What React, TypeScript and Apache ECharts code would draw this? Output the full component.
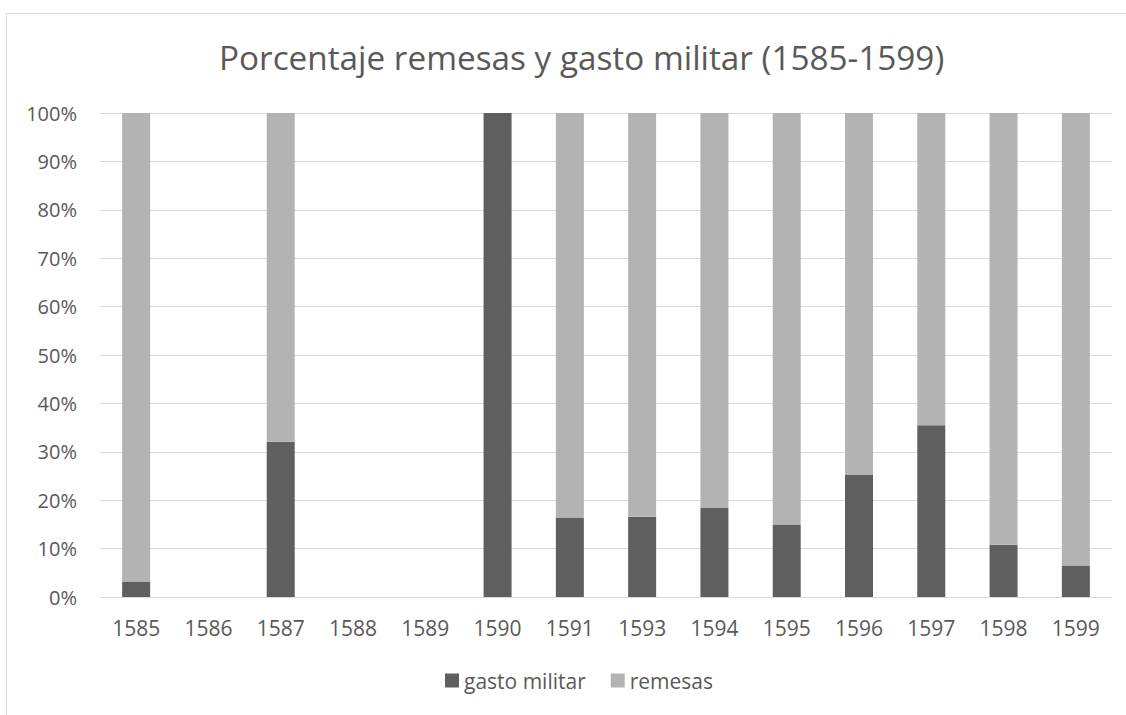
import React, { useEffect, useRef } from "react";
import * as echarts from "echarts";

const categories = ["1585", "1586", "1587", "1588", "1589", "1590", "1591", "1593", "1594", "1595", "1596", "1597", "1598", "1599"];
const gastoMilitar = [3.1, 0, 32.1, 0, 0, 100, 16.3, 16.6, 18.4, 15.0, 25.2, 35.5, 10.8, 6.4];
const remesas = [96.9, 0, 67.9, 0, 0, 0, 83.7, 83.4, 81.6, 85.0, 74.8, 64.5, 89.2, 93.6];
const titleText = "Porcentaje remesas y gasto militar (1585-1599)";

const FONT = "'Open Sans', 'Noto Sans', sans-serif";
const TEXT = "#595959";

export default function App() {
  const ref = useRef<HTMLDivElement>(null);
  useEffect(() => {
    if (!ref.current) return;
    const chart = echarts.init(ref.current, undefined, { renderer: "svg" });
    chart.setOption({
      animation: false,
      backgroundColor: "#ffffff",
      textStyle: { fontFamily: FONT },
      title: {
        text: titleText,
        left: 214,
        top: 35,
        textStyle: { fontFamily: FONT, fontSize: 33.3, fontWeight: "normal", color: TEXT },
      },
      graphic: [
        {
          type: "rect",
          shape: { x: 6.5, y: 13.5, width: 1140, height: 720 },
          style: { fill: "none", stroke: "#d9d9d9", lineWidth: 1 },
          silent: true,
        },
      ],
      legend: {
        bottom: 19,
        left: 440,
        icon: "rect",
        itemWidth: 14,
        itemHeight: 14,
        itemGap: 25,
        textStyle: { fontFamily: FONT, fontSize: 21, color: TEXT },
        data: ["gasto militar", "remesas"],
      },
      grid: { left: 100, right: 14, top: 113, bottom: 118, containLabel: false },
      xAxis: {
        type: "category",
        data: categories,
        axisTick: { show: false },
        axisLine: { lineStyle: { color: "#d9d9d9", width: 1 } },
        axisLabel: { fontFamily: FONT, fontSize: 21, color: TEXT, margin: 20 },
      },
      yAxis: {
        type: "value",
        min: 0,
        max: 100,
        interval: 10,
        axisLine: { show: false },
        axisTick: { show: false },
        splitLine: { lineStyle: { color: "#d9d9d9", width: 1 } },
        axisLabel: { fontFamily: FONT, fontSize: 20, color: TEXT, margin: 23, formatter: "{value}%" },
      },
      series: [
        {
          name: "gasto militar",
          type: "bar",
          stack: "total",
          barWidth: 28,
          data: gastoMilitar,
          itemStyle: { color: "#5f5f5f" },
        },
        {
          name: "remesas",
          type: "bar",
          stack: "total",
          barWidth: 28,
          data: remesas,
          itemStyle: { color: "#b3b3b3" },
        },
      ],
    });
    return () => chart.dispose();
  }, []);
  return (
    <div
      ref={ref}
      style={{ position: "fixed", left: 0, top: 0, width: 1126, height: 715 }}
    />
  );
}
